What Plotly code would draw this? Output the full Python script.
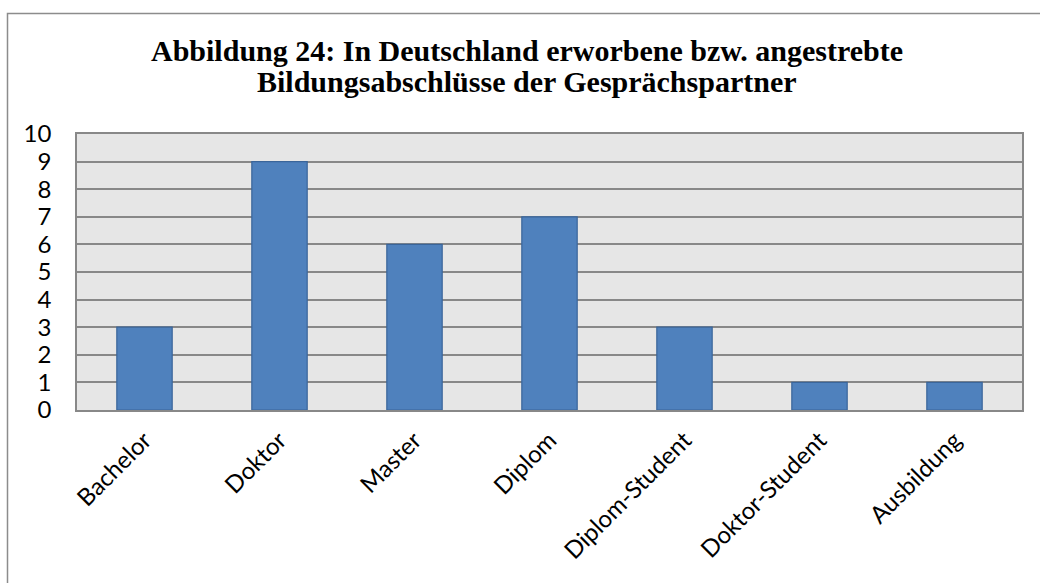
import plotly.graph_objects as go

categories = ["Bachelor", "Doktor", "Master", "Diplom", "Diplom-Student", "Doktor-Student", "Ausbildung"]
values = [3, 9, 6, 7, 3, 1, 1]
y_ticks = list(range(0, 11))
title_lines = ["Abbildung 24: In Deutschland erworbene bzw. angestrebte",
               "Bildungsabschlüsse der Gesprächspartner"]

W, H = 1040, 583
L, R, T, B = 77, W - 1022, 134, H - 410

fig = go.Figure()
fig.add_trace(go.Bar(
    x=categories, y=values,
    marker=dict(color="#4F81BD", line=dict(color="#3A659A", width=1.2)),
    width=0.41,
))

pw, ph = W - L - R, H - T - B
def px_to_paper_x(p):
    return (p - L) / pw
def px_to_paper_y(p):
    return (H - B - p) / ph

tick_font = dict(family="Lato, Open Sans, sans-serif", size=24, color="black")

annotations = []
for line, cy in zip(title_lines, [50, 81]):
    annotations.append(dict(
        text="<b>" + line + "</b>", xref="paper", yref="paper",
        x=px_to_paper_x(527), y=px_to_paper_y(cy),
        xanchor="center", yanchor="middle", showarrow=False,
        font=dict(family="Liberation Serif", size=30, color="black"),
    ))

fig.update_layout(
    width=W, height=H,
    margin=dict(l=L, r=R, t=T, b=B, pad=0),
    paper_bgcolor="white",
    plot_bgcolor="#E6E6E6",
    showlegend=False,
    annotations=annotations,
    xaxis=dict(
        tickangle=-45,
        tickfont=tick_font,
        showgrid=False, ticks="", showline=True, linecolor="#888888", linewidth=1.5,
        mirror=True, ticklabelstandoff=5,
    ),
    yaxis=dict(
        range=[0, 10], tickvals=y_ticks, ticktext=[str(v) for v in y_ticks],
        tickfont=tick_font,
        showgrid=True, gridcolor="#888888", gridwidth=1.5,
        showline=True, linecolor="#888888", linewidth=1.5, mirror=True,
        ticks="", ticklabelstandoff=19,
        zeroline=False,
    ),
    shapes=[dict(
        type="rect", xref="paper", yref="paper",
        x0=px_to_paper_x(7.5), x1=px_to_paper_x(1060),
        y0=px_to_paper_y(600), y1=px_to_paper_y(13.5),
        line=dict(color="#8C8C8C", width=1.5), fillcolor="rgba(0,0,0,0)",
        layer="below",
    )],
)

fig.write_html("out.html", config={"displayModeBar": False},
               post_script="document.body.style.margin='0';")
